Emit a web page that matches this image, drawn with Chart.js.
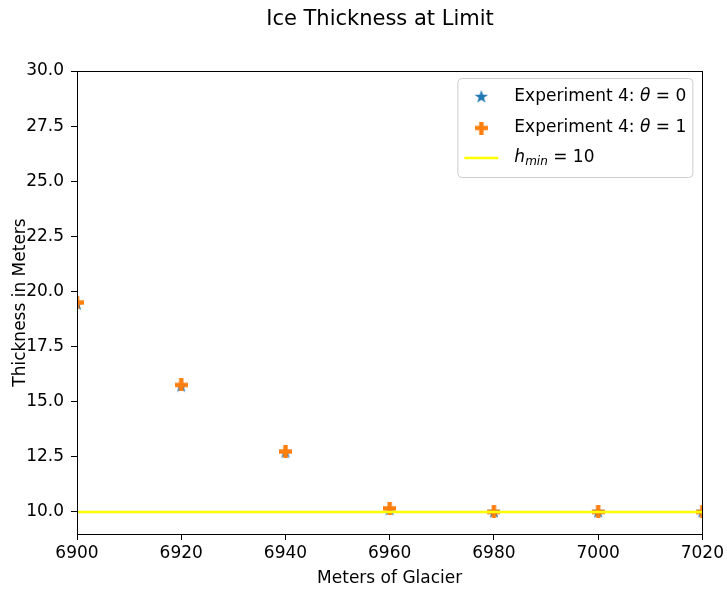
<!DOCTYPE html>
<html>
<head>
<meta charset="utf-8">
<script src="https://cdn.jsdelivr.net/npm/chart.js@4"></script>
<style>
  body { margin: 0; background: #fff; }
</style>
</head>
<body>
<canvas id="grafico" width="727" height="594"></canvas>
<script>
// datos
const metros = [6900, 6920, 6940, 6960, 6980, 7000, 7020];
const espesorTheta0 = [19.42, 15.70, 12.70, 10.10, 10.0, 10.0, 10.0];
const espesorTheta1 = [19.50, 15.76, 12.74, 10.16, 10.0, 10.0, 10.0];
const hMin = 10;
const xTicks = [6900, 6920, 6940, 6960, 6980, 7000, 7020];
const yTicks = [10, 12.5, 15, 17.5, 20, 22.5, 25, 27.5, 30];
const yMin = 9;
const yMax = 30;

const AZUL = '#1f77b4';
const NARANJA = '#ff7f0e';
const AMARILLO = '#ffff00';
const FUENTE = "'DejaVu Sans', sans-serif";
const TAM = 17;

// marcador estrella rellena (como '*' de matplotlib)
function marcadorEstrella(color, r) {
  const c = document.createElement('canvas');
  const s = Math.ceil(r * 2 + 2);
  c.width = c.height = s;
  const g = c.getContext('2d');
  g.fillStyle = color;
  g.beginPath();
  for (let i = 0; i < 10; i++) {
    const rad = i % 2 === 0 ? r : r * 0.4;
    const a = -Math.PI / 2 + i * Math.PI / 5;
    const px = s / 2 + rad * Math.cos(a);
    const py = s / 2 + rad * Math.sin(a);
    if (i === 0) g.moveTo(px, py); else g.lineTo(px, py);
  }
  g.closePath();
  g.fill();
  return c;
}

// marcador mas relleno (como 'P' de matplotlib)
function marcadorMas(color, size) {
  const c = document.createElement('canvas');
  c.width = c.height = size;
  const g = c.getContext('2d');
  g.fillStyle = color;
  const t = size / 3;
  g.fillRect(t, 0, t, size);
  g.fillRect(0, t, size, t);
  return c;
}

const estrella = marcadorEstrella(AZUL, 7);
const mas = marcadorMas(NARANJA, 13);

// marco completo alrededor del area del grafico
const marco = {
  id: 'marco',
  afterDatasetsDraw(chart) {
    const { ctx, chartArea: a } = chart;
    ctx.save();
    ctx.strokeStyle = '#000';
    ctx.lineWidth = 1;
    ctx.strokeRect(Math.round(a.left) + 0.5, Math.round(a.top) + 0.5,
      Math.round(a.right - a.left), Math.round(a.bottom - a.top));
    ctx.restore();
  }
};

// titulo centrado
const titulo = {
  id: 'titulo',
  afterDraw(chart) {
    const ctx = chart.ctx;
    ctx.save();
    ctx.fillStyle = '#000';
    ctx.font = '21px ' + FUENTE;
    ctx.textAlign = 'center';
    ctx.textBaseline = 'middle';
    ctx.fillText('Ice Thickness at Limit', 380, 20);
    ctx.restore();
  }
};

// dibuja trozos de texto seguidos (normal / cursiva / subindice)
function textoPartes(ctx, partes, x, y) {
  partes.forEach(p => {
    ctx.font = (p.italic ? 'italic ' : '') + (p.size || TAM) + 'px ' + FUENTE;
    ctx.fillText(p.t, x, y + (p.dy || 0));
    x += ctx.measureText(p.t).width;
  });
}

// leyenda dentro del grafico, arriba a la derecha
const leyenda = {
  id: 'leyenda',
  afterDraw(chart) {
    const { ctx, chartArea: a } = chart;
    const w = 235, h = 99;
    const x0 = a.right - 10 - w;
    const y0 = a.top + 7;
    ctx.save();
    ctx.fillStyle = 'rgba(255,255,255,0.8)';
    ctx.strokeStyle = '#cccccc';
    ctx.lineWidth = 1;
    ctx.beginPath();
    ctx.roundRect(x0 + 0.5, y0 + 0.5, w, h, 4);
    ctx.fill();
    ctx.stroke();

    const filas = [y0 + 19, y0 + 50, y0 + 80];
    const mx = x0 + 24;
    ctx.drawImage(estrella, mx - estrella.width / 2, filas[0] - estrella.height / 2);
    ctx.drawImage(mas, mx - mas.width / 2, filas[1] - mas.height / 2);
    ctx.strokeStyle = AMARILLO;
    ctx.lineWidth = 2.6;
    ctx.beginPath();
    ctx.moveTo(x0 + 7, filas[2]);
    ctx.lineTo(x0 + 41, filas[2]);
    ctx.stroke();

    ctx.fillStyle = '#000';
    ctx.textBaseline = 'middle';
    ctx.textAlign = 'left';
    const tx = x0 + 57;
    textoPartes(ctx, [{ t: 'Experiment 4: ' }, { t: 'θ', italic: true }, { t: ' = 0' }], tx, filas[0]);
    textoPartes(ctx, [{ t: 'Experiment 4: ' }, { t: 'θ', italic: true }, { t: ' = 1' }], tx, filas[1]);
    textoPartes(ctx, [{ t: 'h', italic: true }, { t: 'min', italic: true, size: 12, dy: 4 }, { t: ' = 10' }], tx, filas[2]);
    ctx.restore();
  }
};

const ctx = document.getElementById('grafico').getContext('2d');
new Chart(ctx, {
  type: 'scatter',
  data: {
    datasets: [
      {
        label: 'Experiment 4: θ = 0',
        data: metros.map((x, i) => ({ x: x, y: espesorTheta0[i] })),
        pointStyle: estrella,
        order: 2,
        clip: 0
      },
      {
        label: 'Experiment 4: θ = 1',
        data: metros.map((x, i) => ({ x: x, y: espesorTheta1[i] })),
        pointStyle: mas,
        order: 1,
        clip: 0
      },
      {
        type: 'line',
        label: 'h_min = 10',
        data: [{ x: xTicks[0], y: hMin }, { x: xTicks[xTicks.length - 1], y: hMin }],
        borderColor: AMARILLO,
        borderWidth: 2.6,
        pointRadius: 0,
        order: 0,
        clip: 0
      }
    ]
  },
  options: {
    responsive: false,
    animation: false,
    layout: { padding: { top: 71, right: 24, left: 0, bottom: 0 } },
    plugins: {
      legend: { display: false },
      tooltip: { enabled: false },
      title: { display: false }
    },
    scales: {
      x: {
        type: 'linear',
        min: xTicks[0],
        max: xTicks[xTicks.length - 1],
        afterBuildTicks: s => { s.ticks = xTicks.map(v => ({ value: v })); },
        afterFit: s => { s.height = 60; },
        ticks: {
          color: '#000',
          font: { size: TAM, family: FUENTE },
          padding: 3,
          maxRotation: 0,
          callback: v => String(v)
        },
        grid: { drawOnChartArea: false, color: '#000', tickLength: 6 },
        border: { display: false },
        title: {
          display: true,
          text: 'Meters of Glacier',
          color: '#000',
          font: { size: TAM, family: FUENTE },
          padding: { top: 0, bottom: 5 }
        }
      },
      y: {
        type: 'linear',
        min: yMin,
        max: yMax,
        afterBuildTicks: s => { s.ticks = yTicks.map(v => ({ value: v })); },
        afterFit: s => { s.width = 77; },
        ticks: {
          color: '#000',
          font: { size: TAM, family: FUENTE },
          padding: 7,
          callback: v => Number(v).toFixed(1)
        },
        grid: { drawOnChartArea: false, color: '#000', tickLength: 6 },
        border: { display: false },
        title: {
          display: true,
          text: 'Thickness in Meters',
          color: '#000',
          font: { size: TAM, family: FUENTE },
          padding: { top: 10, bottom: 0 }
        }
      }
    }
  },
  plugins: [marco, titulo, leyenda]
});
</script>
</body>
</html>
